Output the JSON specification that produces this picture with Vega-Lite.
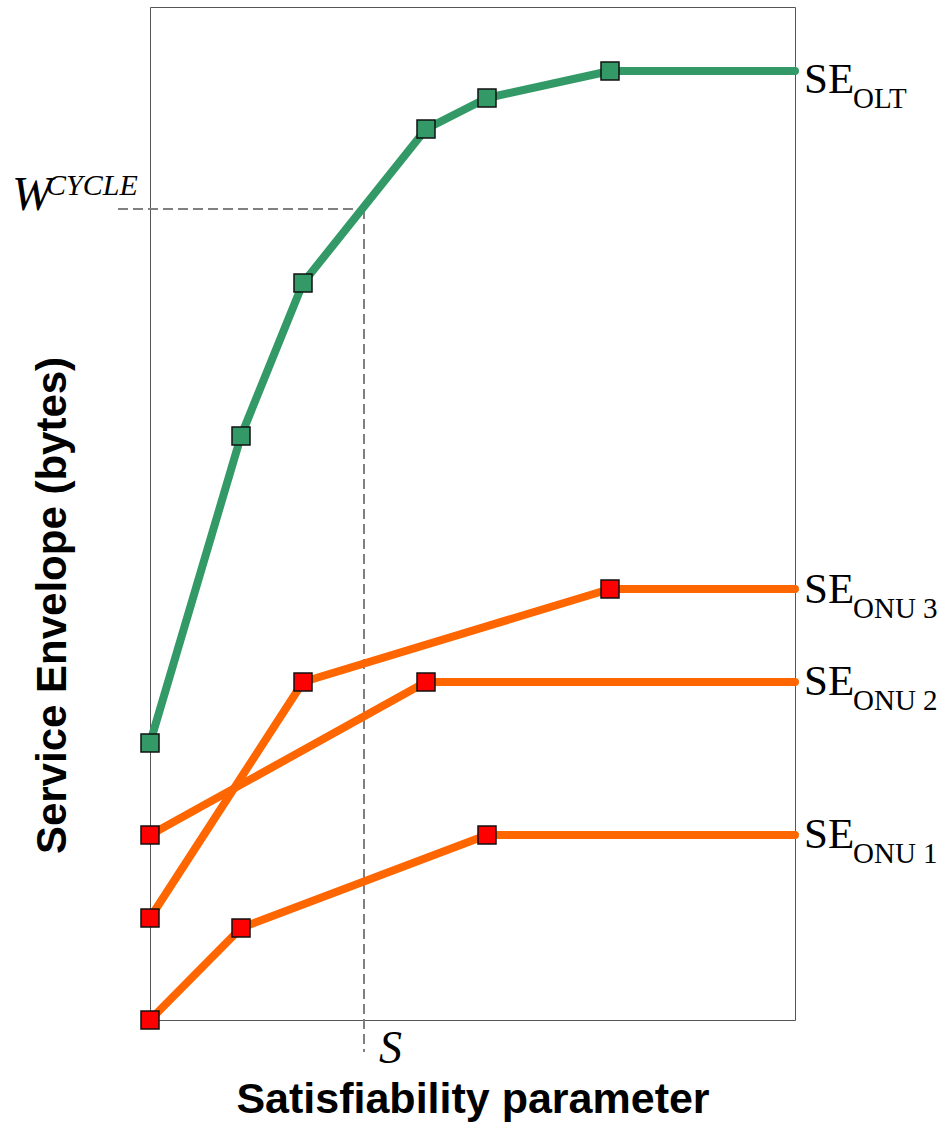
{
  "$schema": "https://vega.github.io/schema/vega-lite/v6.json",
  "width": 645,
  "height": 1013,
  "autosize": {"type": "none"},
  "padding": {"left": 150, "top": 7, "right": 154, "bottom": 112},
  "background": "white",
  "config": {
    "view": {"stroke": "#555555", "strokeWidth": 1},
    "axis": {"grid": false, "ticks": false, "labels": false, "domain": false}
  },
  "datasets": {
    "series": [
      {"series": "OLT", "x": 0, "y": 277, "kind": "point"},
      {"series": "OLT", "x": 91, "y": 584, "kind": "point"},
      {"series": "OLT", "x": 153, "y": 737, "kind": "point"},
      {"series": "OLT", "x": 276, "y": 891, "kind": "point"},
      {"series": "OLT", "x": 337, "y": 922, "kind": "point"},
      {"series": "OLT", "x": 460, "y": 949, "kind": "point"},
      {"series": "OLT", "x": 645, "y": 949, "kind": "extension"},
      {"series": "ONU 3", "x": 0, "y": 102, "kind": "point"},
      {"series": "ONU 3", "x": 153, "y": 338, "kind": "point"},
      {"series": "ONU 3", "x": 460, "y": 431, "kind": "point"},
      {"series": "ONU 3", "x": 645, "y": 431, "kind": "extension"},
      {"series": "ONU 2", "x": 0, "y": 185, "kind": "point"},
      {"series": "ONU 2", "x": 276, "y": 338, "kind": "point"},
      {"series": "ONU 2", "x": 645, "y": 338, "kind": "extension"},
      {"series": "ONU 1", "x": 0, "y": 0, "kind": "point"},
      {"series": "ONU 1", "x": 91, "y": 92, "kind": "point"},
      {"series": "ONU 1", "x": 337, "y": 185, "kind": "point"},
      {"series": "ONU 1", "x": 645, "y": 185, "kind": "extension"}
    ],
    "refs": [
      {"x": -32, "x2": 214, "y": 811, "y2": 811},
      {"x": 214, "x2": 214, "y": 811, "y2": -32}
    ],
    "labels": [
      {"x": 645, "y": 927, "main": "SE", "sub": "OLT"},
      {"x": 645, "y": 417, "main": "SE", "sub": "ONU 3"},
      {"x": 645, "y": 325, "main": "SE", "sub": "ONU 2"},
      {"x": 645, "y": 172, "main": "SE", "sub": "ONU 1"}
    ],
    "wlabel": [{"x": -32, "y": 811, "main": "W", "sup": "CYCLE"}],
    "slabel": [{"x": 214, "y": -32, "main": "S"}]
  },
  "encoding": {
    "x": {
      "field": "x",
      "type": "quantitative",
      "scale": {"domain": [0, 645], "nice": false, "zero": false},
      "axis": {
        "title": "Satisfiability parameter",
        "titleFont": "Liberation Sans",
        "titleFontSize": 43,
        "titleFontWeight": "bold",
        "titleColor": "black",
        "titleBaseline": "alphabetic",
        "titleY": 92
      }
    },
    "y": {
      "field": "y",
      "type": "quantitative",
      "scale": {"domain": [0, 1013], "nice": false, "zero": false},
      "axis": {
        "title": "Service Envelope (bytes)",
        "titleFont": "Liberation Sans",
        "titleFontSize": 42,
        "titleFontWeight": "bold",
        "titleColor": "black",
        "titleBaseline": "middle",
        "titleX": -98,
        "titleY": 598
      }
    }
  },
  "layer": [
    {
      "data": {"name": "refs"},
      "mark": {"type": "rule", "color": "#808080", "strokeWidth": 2, "strokeDash": [10, 5]},
      "encoding": {
        "x2": {"field": "x2"},
        "y2": {"field": "y2"}
      }
    },
    {
      "data": {"name": "series"},
      "mark": {"type": "line", "strokeWidth": 8, "strokeCap": "round", "strokeJoin": "round"},
      "encoding": {
        "detail": {"field": "series"},
        "order": {"field": "x", "type": "quantitative"},
        "color": {
          "field": "series",
          "type": "nominal",
          "scale": {"domain": ["OLT", "ONU 3", "ONU 2", "ONU 1"], "range": ["#339966", "#ff6600", "#ff6600", "#ff6600"]},
          "legend": null
        }
      }
    },
    {
      "data": {"name": "series"},
      "transform": [{"filter": "datum.kind === 'point'"}],
      "mark": {"type": "point", "shape": "square", "filled": true, "size": 324, "stroke": "#111111", "strokeWidth": 1.5, "opacity": 1},
      "encoding": {
        "fill": {
          "field": "series",
          "type": "nominal",
          "scale": {"domain": ["OLT", "ONU 3", "ONU 2", "ONU 1"], "range": ["#339966", "#ff0000", "#ff0000", "#ff0000"]},
          "legend": null
        }
      }
    },
    {
      "data": {"name": "labels"},
      "mark": {"type": "text", "font": "Liberation Serif", "fontSize": 43, "align": "left", "baseline": "alphabetic", "dx": 9, "color": "black"},
      "encoding": {"text": {"field": "main"}}
    },
    {
      "data": {"name": "labels"},
      "mark": {"type": "text", "font": "Liberation Serif", "fontSize": 29, "align": "left", "baseline": "alphabetic", "dx": 58, "dy": 15, "color": "black"},
      "encoding": {"text": {"field": "sub"}}
    },
    {
      "data": {"name": "wlabel"},
      "mark": {"type": "text", "font": "Liberation Serif", "fontStyle": "italic", "fontSize": 48, "align": "left", "baseline": "alphabetic", "dx": -106, "dy": 1, "color": "black"},
      "encoding": {"text": {"field": "main"}}
    },
    {
      "data": {"name": "wlabel"},
      "mark": {"type": "text", "font": "Liberation Serif", "fontStyle": "italic", "fontSize": 30, "align": "left", "baseline": "alphabetic", "dx": -72, "dy": -14, "color": "black"},
      "encoding": {"text": {"field": "sup"}}
    },
    {
      "data": {"name": "slabel"},
      "mark": {"type": "text", "font": "Liberation Serif", "fontStyle": "italic", "fontSize": 46, "align": "left", "baseline": "alphabetic", "dx": 15, "dy": 11, "color": "black"},
      "encoding": {"text": {"field": "main"}}
    }
  ]
}
